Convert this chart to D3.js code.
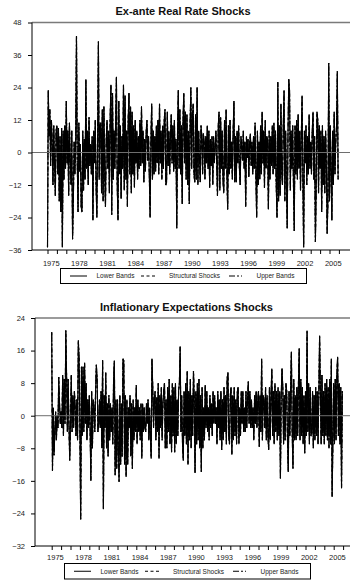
<!DOCTYPE html>
<html>
<head>
<meta charset="utf-8">
<script src="https://cdn.jsdelivr.net/npm/d3@7"></script>
<style>
  body { margin: 0; background: #fff; }
  svg { display: block; font-family: "Liberation Sans", Arial, sans-serif; }
</style>
</head>
<body>
<script>
const W = 350;
const H = 580;

// monthly observations, 1975:01 - 2005:12
const startYear = 1975;
const tickYears = d3.range(1975, 2007);
const labelYears = d3.range(1975, 2006, 3);
const legendLabels = ['Lower Bands', 'Structural Shocks', 'Upper Bands'];

const realRateTicks = [48, 36, 24, 12, 0, -12, -24, -36];
const realRateShocks = [
  -35, 23, 6, 16, -5, 12, 4, -12, 10, -4, -16, 8,
  10, -8, 9, -18, 6, -22, 9, -35, 8, -10, 10, -6,
  19, -4, 8, -16, 11, -2, -12, 8, -32, -18, 4, -8,
  6, 43, -4, -22, 11, -7, 3, -20, -22, 8, -14, 5,
  -10, 27, -6, 8, -12, 13, -5, 3, -8, 6, -25, 8,
  -4, 12, -12, -24, 6, 41, -10, 10, 11, -15, 16, -18,
  17, -8, -20, 5, 12, -6, 8, -15, 13, 25, -23, 22,
  -10, 8, -6, 12, 28, -12, -25, 19, -8, 10, -17, 6,
  -6, 25, -14, 21, -10, 8, -20, 12, 22, -8, 17, -15,
  15, -8, 10, -13, 12, -4, 8, -10, 6, -6, 12, -5,
  17, -4, 8, -11, 5, -7, 8, 12, -3, 6, -9, -24,
  4, 18, -10, 8, -8, 6, -7, 10, -4, 12, -8, 18,
  -4, 8, -10, 10, -6, 12, 16, -12, -11, 15, -5, 8,
  -8, 6, 14, -4, 10, -7, 12, -6, 5, -28, 8, 23,
  -6, 16, -8, 10, -19, 12, 22, -4, 15, -10, 14, -12,
  8, -19, 10, 24, -6, 13, 18, -8, -11, 14, -10, 24,
  -12, 8, -2, -11, 10, 6, -8, 7, 4, -10, 6, -4,
  10, -6, 8, -13, 5, -5, 6, -12, 6, -4, 2, 8,
  -4, -16, 10, 15, -14, 13, -6, 8, -10, -15, 12, -6,
  16, -8, -21, 10, -8, 12, -6, 4, -10, 8, 19, -11,
  6, -11, 8, -4, 10, -6, -12, 6, 2, -3, 8, -6,
  4, -20, 6, -2, 5, -9, 3, 7, -5, 4, -8, 6,
  -6, 11, -8, -24, 8, -12, 4, -10, 10, -8, 15, -4,
  8, -13, 12, -6, 6, 4, -21, 8, -10, 6, -5, 10,
  -8, 11, -6, 8, -12, -24, 26, -18, 10, -16, 18, -8,
  -12, 10, 23, -18, 8, -10, -28, 6, 27, 23, -14, 8,
  -6, 10, -12, -29, 10, -8, 12, -10, 14, -6, 8, -14,
  6, 21, -10, -35, 8, -4, 10, -12, 6, -8, 14, -6,
  4, -8, 8, 15, -10, 6, -33, -14, 15, 12, -15, 10,
  -6, 8, -22, 10, -12, 6, -15, 8, -4, -30, -18, 33,
  -18, 10, -6, -25, 8, -12, 15, -8, 4, 10, 30, -10
];

const inflationTicks = [24, 16, 8, 0, -8, -16, -24, -32];
const inflationShocks = [
  20.5, -13.5, 2, -9.7, -4, 1, -6, 0, -3, 9.5, 3, -2,
  1, -3, 10, -5, 9, -2, 21, 10, -4, 9, -2, -11,
  -2, 10, -4, 5, -3, 6, 2, -5, 4, -6, 18.5, 14,
  -4, -25.5, 12, -5, 12, -4, 13, -2, 8, -6, 4, -3,
  5, -3, -16, 6, -8, 4, 2, -4, 6, 12.5, 9, -4,
  -2, 4, -3, 6, -8, 13.7, -23, 5, -3, 10.6, -8, 3,
  -10, 5, -6, 3, -4, 2, -7, 9, 13.5, -14.6, 4, -13,
  4, -8, -16.2, 5, -12, 3, -10, 14, 13.5, -12, 5, -15,
  4, -12, 2, -3, 5, -10, 3, -13, 4, -6, 2, -4,
  7.5, -7, 4, -4, 2, -6, 3, -10.5, 3, -4, 2, -3,
  -4, 3, -2, 4, -6, 2, -5, -10.5, 14, 7, -3, 4,
  6, -6, 4.5, -4, 8, -10.5, 5, -3, 7, -6, 3, 6,
  8, -8, 4, -8, 7, -4, 9, -7, 5, -9, 8, -5,
  7, -9, 8, -7, 4, -5, 6, 8, 17, -4, 5, -7,
  -11, 6, -5, 8, -7, 11, -12, 6, -6, 9, -8, 5,
  -5, 11, 4, -14, 6, -7, 8, -6, 9, -8, 5, -13.8,
  7, -8, 2, -6, 7.5, -3, 6, -4, 2, -6, 5, -3,
  3, -5, 6, -2, 5, -2, 2, -7, 6, -3, 4, -6,
  6, -8.4, 4, -6, 7, -4, 5, -7, 9.2, 10.6, -5, -7,
  5, 7, -9.6, 5, -6, 7, -5, 4, -7, 6, 7, -7,
  2, -5, 6, -2, 6, -4, 2, -4, 6, -3, 4, 8.4,
  -2, 6, -3, 4, -3, 2, -6, 5, -2, 6, -3, 4,
  6, -7.6, 5, -4, 14, -6, 5, 4, -3, 7, -6, 5,
  -5, -8.4, 7, -6, 5, 11.6, -5, 6, -7, 8, -4, 6,
  -6, 7, -5, 6, -15.4, 5, 11.6, 7, -7, 5, -6, 8,
  6, -6, -13.8, 6, -5, 7, 15.7, -4, -13, 9, -6, 5,
  -6, 7, -5, 8, 16.5, -6, 9, -5, 7, -7, 5, -9.2,
  6, -5, 20.9, -4, 8, -7, 7, -5, -4, 6, -8, 5,
  -6, 7, -5, 6, -7, 5, 19.7, 6, -7, 10, -5, 6,
  -7, 8, -5, 9, -6, 7, -8, 9, -7, 14, -19.9, -6,
  8, -7, 9, -6, 10, 14.5, -5, 8, -7, 7, -17.8, 6
];

// the error bands sit right on top of the shocks at this scale
const realRateLower = realRateShocks;
const realRateUpper = realRateShocks;
const inflationLower = inflationShocks;
const inflationUpper = inflationShocks;

const dashes = [null, '3,2.5', '6,2,2,2,1,2'];

const svg = d3.select('body').append('svg')
  .attr('width', W)
  .attr('height', H);

drawPanel({
  title: 'Ex-ante Real Rate Shocks',
  titleX: 183, titleY: 15,
  top: 22.5, bottom: 250, left: 32, x1975: 47.5,
  yDomain: [-36, 48], yTicks: realRateTicks, labelPad: 6.5,
  series: [realRateLower, realRateShocks, realRateUpper],
  yearLabelY: 266,
  legend: { x: 60, y: 268, w: 246, h: 15 }
});

drawPanel({
  title: 'Inflationary Expectations Shocks',
  titleX: 186.5, titleY: 310.5,
  top: 318, bottom: 546, left: 35, x1975: 51.7,
  yDomain: [-32, 24], yTicks: inflationTicks, labelPad: 6,
  series: [inflationLower, inflationShocks, inflationUpper],
  yearLabelY: 560,
  legend: { x: 64, y: 563, w: 246, h: 15.5 }
});

function drawPanel(p) {
  const g = svg.append('g');

  const x = d3.scaleLinear()
    .domain([1975, 2006])
    .range([p.x1975, p.x1975 + 31 * 9.4]);

  const y = d3.scaleLinear()
    .domain(p.yDomain)
    .range([p.bottom, p.top]);

  g.append('text')
    .attr('x', p.titleX)
    .attr('y', p.titleY)
    .attr('text-anchor', 'middle')
    .style('font-size', '11px')
    .style('font-weight', 'bold')
    .style('fill', '#111')
    .text(p.title);

  const line = d3.line()
    .x((d, i) => x(startYear + i / 12))
    .y(d => y(d));

  g.selectAll('path.series')
    .data(p.series)
    .enter().append('path')
      .attr('class', 'series')
      .attr('d', line)
      .attr('fill', 'none')
      .attr('stroke', '#000')
      .attr('stroke-width', 1.1)
      .attr('stroke-dasharray', (d, i) => dashes[i]);

  // top frame and zero line are grey
  g.append('line')
    .attr('x1', p.left).attr('x2', W)
    .attr('y1', p.top).attr('y2', p.top)
    .attr('stroke', '#7a7a7a')
    .attr('stroke-width', 1.5);

  g.append('line')
    .attr('x1', p.left).attr('x2', W)
    .attr('y1', y(0)).attr('y2', y(0))
    .attr('stroke', '#6e6e6e')
    .attr('stroke-width', 1);

  const yAxis = g.append('g')
    .attr('transform', `translate(${p.left},0)`)
    .call(d3.axisLeft(y)
      .tickValues(p.yTicks)
      .tickSize(4)
      .tickSizeOuter(0)
      .tickPadding(p.labelPad));
  yAxis.select('.domain')
    .attr('d', `M0,${p.top}V${p.bottom}`);
  yAxis.selectAll('text')
    .style('font-size', '7.5px')
    .style('font-family', '"Liberation Sans", Arial, sans-serif')
    .style('fill', '#222');

  const xAxis = g.append('g')
    .attr('transform', `translate(0,${p.bottom})`)
    .call(d3.axisBottom(x)
      .tickValues(tickYears)
      .tickSize(4)
      .tickSizeOuter(0)
      .tickFormat(''));
  xAxis.select('.domain')
    .attr('d', `M${p.left},0H${W}`);

  g.selectAll('text.year')
    .data(labelYears)
    .enter().append('text')
      .attr('class', 'year')
      .attr('x', d => x(d + 0.4))
      .attr('y', p.yearLabelY)
      .attr('text-anchor', 'middle')
      .style('font-size', '7.5px')
      .style('fill', '#222')
      .text(d => d);

  // legend
  const lg = g.append('g')
    .attr('transform', `translate(${p.legend.x},${p.legend.y})`);
  lg.append('rect')
    .attr('x', 0.5).attr('y', 0.5)
    .attr('width', p.legend.w).attr('height', p.legend.h)
    .attr('fill', '#fff')
    .attr('stroke', '#000')
    .attr('stroke-width', 1);

  const sampleX = [[10, 27], [81, 97], [169, 184]];
  const textX = [36.5, 109, 196.5];
  const midY = p.legend.h / 2 + 0.5;

  lg.selectAll('line.sample')
    .data(legendLabels)
    .enter().append('line')
      .attr('class', 'sample')
      .attr('x1', (d, i) => sampleX[i][0])
      .attr('x2', (d, i) => sampleX[i][1])
      .attr('y1', midY).attr('y2', midY)
      .attr('stroke', '#000')
      .attr('stroke-width', 1)
      .attr('stroke-dasharray', (d, i) => dashes[i]);

  lg.selectAll('text.item')
    .data(legendLabels)
    .enter().append('text')
      .attr('class', 'item')
      .attr('x', (d, i) => textX[i])
      .attr('y', midY + 2.3)
      .style('font-size', '6.5px')
      .style('fill', '#222')
      .text(d => d);
}
</script>
</body>
</html>
